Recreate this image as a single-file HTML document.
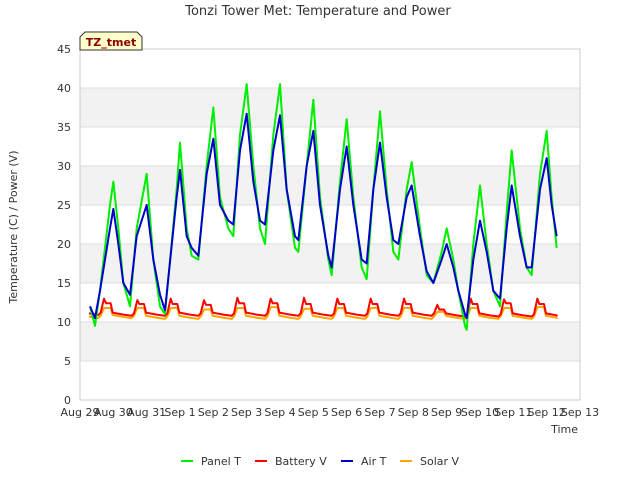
<!DOCTYPE html>
<html><head><meta charset="utf-8"><style>
body{margin:0;background:#fff;font-family:"DejaVu Sans","Liberation Sans",sans-serif;}
svg text{font-family:"DejaVu Sans","Liberation Sans",sans-serif;}
</style></head><body>
<svg id="chart" width="640" height="480" xmlns="http://www.w3.org/2000/svg">
<rect width="640" height="480" fill="#fff"/>
<g id="bands"></g>
<g id="grid"></g>
<rect x="80" y="49" width="500" height="351" fill="none" stroke="#ccc"/>
<g id="series"></g>
<g id="yticks"></g>
<g id="xticks"></g>
<text x="318" y="15" text-anchor="middle" font-size="13" fill="#333">Tonzi Tower Met: Temperature and Power</text>
<text x="17" y="227" text-anchor="middle" font-size="11" fill="#333" transform="rotate(-90 17 227)">Temperature (C) / Power (V)</text>
<text x="578" y="433" text-anchor="end" font-size="11" fill="#333">Time</text>
<g>
<path d="M80,50 L80,37 L85,32 L137,32 L142,37 L142,50 Z" fill="#ffffcc" stroke="#333"/>
<text x="111" y="46" text-anchor="middle" font-size="11" font-weight="bold" fill="#8b0000">TZ_tmet</text>
</g>
<g id="legend"></g>
</svg>
<script>
const xLabels=["Aug 29","Aug 30","Aug 31","Sep 1","Sep 2","Sep 3","Sep 4","Sep 5","Sep 6","Sep 7","Sep 8","Sep 9","Sep 10","Sep 11","Sep 12","Sep 13"];
const yTicks=[0,5,10,15,20,25,30,35,40,45];
const panelDays=[0.3,0.45,0.6,0.9,1.0,1.15,1.3,1.5,1.7,2.0,2.2,2.4,2.55,2.9,3.0,3.2,3.35,3.55,3.8,4.0,4.2,4.45,4.6,4.8,5.0,5.2,5.4,5.55,5.8,6.0,6.2,6.45,6.55,6.8,7.0,7.2,7.45,7.55,7.8,8.0,8.2,8.45,8.6,8.8,9.0,9.2,9.4,9.55,9.8,9.95,10.2,10.4,10.6,10.85,11.0,11.2,11.35,11.55,11.6,11.8,12.0,12.2,12.4,12.6,12.8,12.95,13.2,13.4,13.55,13.8,14.0,14.15,14.3];
const panelT=[12,9.5,14,25,28,22,15,12,22,29,18,12,11,27,33,22,18.5,18,30,37.5,26,22,21,34,40.5,30,22,20,34,40.5,27,19.5,19,30,38.5,26,18,16,28,36,26,17,15.5,27,37,27,19,18,27,30.5,22,16,15,19,22,18,14,9.5,9,20,27.5,20,14,12,24,32,22,17,16,29,34.5,26,19.5];
const airT=[12,10.5,14,22,24.5,20,15,13.5,21,25,18,13.5,11.5,26,29.5,21,19.5,18.5,29,33.5,25,23,22.5,32,36.7,28,23,22.5,32,36.5,27,21,20.5,30,34.5,25,18.5,17,27,32.5,25,18,17.5,27,33,26,20.5,20,26,27.5,21,16.5,15,18,20,17,14,11,10.5,18,23,19,14,13,22,27.5,21,17,17,27,31,25,21];
const battNight=[10.9,10.8,10.8,10.8,10.8,10.8,10.8,10.8,10.8,10.8,10.8,10.7,10.7,10.7];
const battPeak=[13.0,12.8,13.0,12.8,13.1,13.0,13.1,13.0,13.0,13.0,12.2,13.0,12.9,13.0];
const battPlat=[12.4,12.3,12.3,12.2,12.4,12.4,12.3,12.3,12.3,12.3,11.6,12.3,12.4,12.3];
const solarNight=[10.5,10.5,10.4,10.4,10.4,10.4,10.4,10.4,10.4,10.4,10.4,10.4,10.4,10.4];
const solarPlat=[11.8,11.8,11.8,11.6,11.8,11.9,11.7,11.8,11.8,11.8,11.3,11.8,11.8,11.9];
const NS="http://www.w3.org/2000/svg";
const X=d=>80+d*500/15, Y=v=>400-v*351/45;
function mk(t,a,p){const e=document.createElementNS(NS,t);for(const k in a)e.setAttribute(k,a[k]);p.appendChild(e);return e;}
const bands=document.getElementById('bands'),grid=document.getElementById('grid');
for(let i=0;i<yTicks.length-1;i++){ if(i%2===1){const r=mk('rect',{x:80,y:Y(yTicks[i+1]),width:500,height:Y(yTicks[i])-Y(yTicks[i+1]),fill:'#f2f2f2'},bands);}}
const yt=document.getElementById('yticks');
yTicks.forEach(v=>{const l=mk('line',{x1:80,x2:580,y1:Y(v),y2:Y(v),stroke:'#ddd'},grid);
const t=mk('text',{x:71,y:Y(v)+4,'text-anchor':'end','font-size':11,fill:'#333'},yt);t.textContent=v;});
const xt=document.getElementById('xticks');
xLabels.forEach((s,i)=>{const t=mk('text',{x:X(i),y:416,'text-anchor':'middle','font-size':11,fill:'#333'},xt);t.textContent=s;});
const ser=document.getElementById('series');
function line(xs,ys,c,name){const p=mk('polyline',{points:xs.map((d,i)=>X(d)+','+Y(ys[i])).join(' '),fill:'none',stroke:c,'stroke-width':2,'stroke-linejoin':'round'},ser);}
function daily(night,peak,plat){const xs=[0.27],ys=[night[0]+0.2];for(let i=0;i<night.length;i++){const d=i;const nx=i+1<night.length?night[i+1]:night[i];
xs.push(d+0.55,d+0.62,d+0.72,d+0.78,d+0.92,d+0.98,d+1.3);ys.push(night[i],night[i]+0.3,peak[i],plat[i],plat[i],nx+0.4,nx+0.15);}
xs.push(14.3);ys.push(night[night.length-1]);return [xs,ys];}
const sp=daily(solarNight,solarPlat,solarPlat);
line(sp[0],sp[1],'#ffa500','solar-v-line');
const bp=daily(battNight,battPeak,battPlat);
line(bp[0],bp[1],'#ff0000','battery-v-line');
line(panelDays,panelT,'#00ee00','panel-t-line');
line(panelDays,airT,'#0000cc','air-t-line');
const lg=document.getElementById('legend');
[['Panel T','#00ee00',181],['Battery V','#ff0000',255],['Air T','#0000cc',341],['Solar V','#ffa500',400]].forEach(([n,c,x])=>{
const g=mk('g',{},lg);
mk('line',{x1:x,x2:x+12,y1:461,y2:461,stroke:c,'stroke-width':2},g);
const t=mk('text',{x:x+20,y:465,'font-size':11,fill:'#333'},g);t.textContent=n;});
</script>
</body></html>
